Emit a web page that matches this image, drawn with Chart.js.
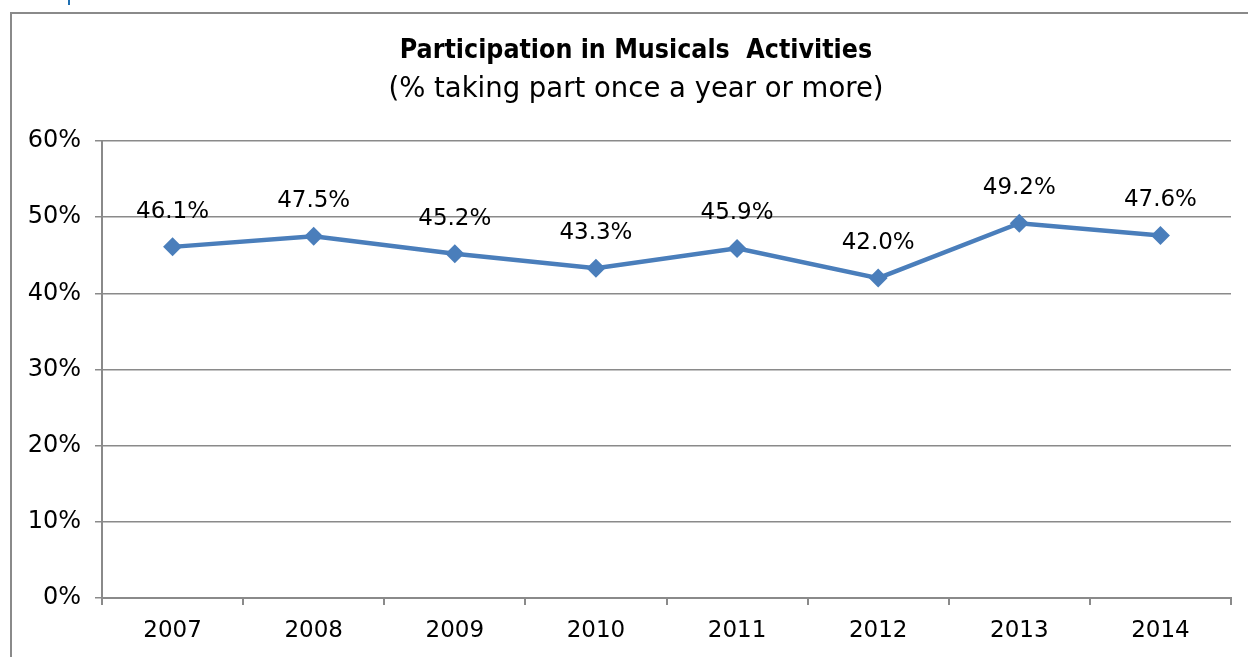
<!DOCTYPE html>
<html><head><meta charset="utf-8">
<script src="https://cdn.jsdelivr.net/npm/chart.js@4/dist/chart.umd.min.js"></script>
<style>html,body{margin:0;padding:0;background:#fff;}#wrap{width:1248px;height:657px;position:relative;}</style>
</head><body><div id="wrap"><canvas id="c" width="1248" height="657"></canvas></div>
<script>
const categories = ['2007','2008','2009','2010','2011','2012','2013','2014'];
const participation = [46.1, 47.5, 45.2, 43.3, 45.9, 42.0, 49.2, 47.6];
const yTicks = [0, 10, 20, 30, 40, 50, 60];
const titleText = 'Participation in Musicals  Activities';
const subtitleText = '(% taking part once a year or more)';
const FONT = '"DejaVu Sans", sans-serif';

const decor = {
  id: 'decor',
  beforeDraw(chart) {
    const ctx = chart.ctx;
    ctx.save();
    ctx.fillStyle = '#fff';
    ctx.fillRect(0, 0, chart.width, chart.height);
    ctx.strokeStyle = '#8a8a8a';
    ctx.lineWidth = 2;
    ctx.beginPath();
    ctx.moveTo(11, 660);
    ctx.lineTo(11, 13);
    ctx.lineTo(1260, 13);
    ctx.stroke();
    ctx.fillStyle = '#1f6fb2';
    ctx.fillRect(68, 0, 2, 5);
    ctx.fillStyle = '#000';
    ctx.textAlign = 'center';
    ctx.textBaseline = 'middle';
    ctx.font = 'bold 26.5px "DejaVu Sans Condensed", ' + FONT;
    ctx.fillText(titleText, 636, 51);
    ctx.font = '27.5px ' + FONT;
    ctx.fillText(subtitleText, 636, 90);
    ctx.restore();
  },
  afterDatasetsDraw(chart) {
    const ctx = chart.ctx;
    const meta = chart.getDatasetMeta(0);
    ctx.save();
    ctx.fillStyle = '#000';
    ctx.font = '23px ' + FONT;
    ctx.textAlign = 'center';
    ctx.textBaseline = 'middle';
    meta.data.forEach((pt, i) => {
      ctx.fillText(participation[i].toFixed(1) + '%', pt.x, pt.y - 35);
    });
    ctx.restore();
  }
};

new Chart(document.getElementById('c'), {
  type: 'line',
  data: {
    labels: categories,
    datasets: [{
      data: participation,
      borderColor: '#4A7EBB',
      backgroundColor: '#4A7EBB',
      borderWidth: 4.5,
      pointStyle: 'rectRot',
      pointRadius: 9.5,
      pointHoverRadius: 9.5,
      pointBorderWidth: 0,
      tension: 0
    }]
  },
  options: {
    responsive: false,
    animation: false,
    devicePixelRatio: 1,
    layout: { padding: { top: 141, right: 17, left: 0, bottom: 0 } },
    plugins: { legend: { display: false }, tooltip: { enabled: false } },
    scales: {
      x: {
        offset: true,
        grid: { offset: true, drawOnChartArea: false, drawTicks: true, tickLength: 7, color: '#8a8a8a', lineWidth: 2 },
        border: { color: '#8a8a8a', width: 2 },
        ticks: { color: '#000', font: { family: FONT, size: 23 }, padding: 12, maxRotation: 0 },
        afterFit(s) { s.height = 59; }
      },
      y: {
        min: 0, max: 60,
        afterBuildTicks(s) { s.ticks = yTicks.map(v => ({ value: v })); },
        grid: { color: '#8a8a8a', lineWidth: 1.5, tickLength: 7 },
        border: { color: '#8a8a8a', width: 2 },
        ticks: { color: '#000', font: { family: FONT, size: 24 }, padding: 14, callback: v => v + '%' },
        afterFit(s) { s.width = 102; }
      }
    }
  },
  plugins: [decor]
});
</script></body></html>
